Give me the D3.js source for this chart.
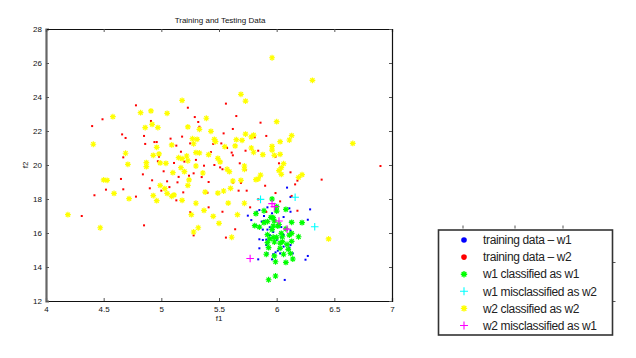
<!DOCTYPE html>
<html><head><meta charset="utf-8">
<script src="https://cdn.jsdelivr.net/npm/d3@7/dist/d3.min.js"></script>
<style>
html,body{margin:0;padding:0;background:#fff;}
text{font-family:"Liberation Sans",Arial,Helvetica,sans-serif;}
</style></head>
<body><svg id="c" width="636" height="358"></svg>
<script>
const title = "Training and Testing Data";
const xLabel = "f1", yLabel = "f2";
const xTicks = [4, 4.5, 5, 5.5, 6, 6.5, 7];
const yTicks = [12, 14, 16, 18, 20, 22, 24, 26, 28];
const legendLabels = ["training data \u2013 w1","training data \u2013 w2","w1 classified as w1","w1 misclassified as w2","w2 classified as w2","w2 misclassified as w1"];

const trainW1 = [[6.09,18.67],[6.12,18.12],[6.29,17.39],[6.11,17.45],[5.92,17.51],[5.85,17.35],[5.75,17.02],[5.89,17.0],[5.78,16.76],[5.87,16.67],[6.06,16.94],[6.12,16.65],[6.27,16.78],[5.82,16.45],[5.88,16.2],[5.92,16.2],[6.04,16.35],[5.85,15.63],[5.88,15.59],[5.91,15.29],[5.85,15.1],[5.92,14.8],[5.96,14.45],[5.84,14.45],[6.01,14.96],[6.06,15.2],[6.14,14.8],[6.25,14.43],[6.27,14.65],[6.07,13.24],[5.94,15.88],[6.0,15.59],[6.06,15.88],[6.03,14.8],[5.96,17.16],[5.99,17.39],[6.12,17.25],[5.83,17.25],[5.89,16.71],[5.94,16.34],[5.97,16.06],[6.12,16.14],[5.91,15.61],[5.97,14.75],[5.99,14.86],[6.04,15.75],[6.11,15.14],[6.12,15.29]];
const trainW2 = [[4.78,23.51],[5.23,23.37],[5.56,23.61],[4.49,22.69],[4.4,22.29],[4.91,22.59],[5.29,22.82],[5.65,22.88],[5.86,22.49],[4.66,21.8],[4.69,21.59],[4.85,21.71],[5.08,21.55],[5.32,22.53],[5.33,22.25],[5.45,21.24],[5.54,21.86],[5.62,22.12],[5.91,21.71],[4.94,21.35],[4.96,21.35],[5.18,21.67],[5.25,21.27],[5.52,21.27],[5.81,21.63],[4.67,20.45],[4.86,21.24],[5.13,21.14],[5.17,20.78],[5.73,20.84],[5.84,20.84],[5.61,20.73],[5.62,20.57],[5.43,20.76],[4.98,20.49],[4.97,20.22],[5.11,20.12],[5.37,19.96],[5.51,19.86],[5.53,19.75],[5.68,20.1],[5.73,19.71],[5.99,20.49],[6.02,20.1],[6.12,19.57],[6.18,19.08],[6.39,19.14],[6.9,19.94],[6.16,18.86],[4.65,19.18],[4.84,19.45],[5.02,19.63],[5.05,19.04],[5.14,18.98],[5.24,19.37],[5.28,19.51],[5.35,19.29],[5.41,19.0],[5.62,18.96],[5.67,18.49],[5.69,18.94],[5.74,18.49],[5.9,18.78],[4.52,18.55],[4.67,18.57],[4.9,18.63],[5.0,18.49],[5.13,17.92],[5.19,18.39],[5.4,18.37],[4.42,18.22],[4.78,18.14],[5.99,18.35],[6.03,17.86],[6.13,18.18],[5.53,17.25],[5.41,17.51],[5.25,17.22],[4.31,17.0],[4.85,16.45],[5.28,15.86],[5.56,15.73],[5.64,16.22],[6.18,17.31],[5.77,17.51],[5.91,17.24],[5.84,17.98],[5.3,20.3],[5.46,20.0],[5.57,21.0],[5.2,20.2],[4.92,19.1],[5.15,19.3],[5.07,18.7]];
const w1Correct = [[5.96,18.0],[5.82,17.14],[5.89,17.31],[6.0,17.55],[6.08,17.39],[6.0,17.29],[5.95,16.92],[5.98,16.71],[5.92,16.67],[5.89,16.61],[5.81,16.43],[5.85,16.35],[5.97,16.41],[6.01,16.41],[6.08,16.25],[5.96,16.2],[6.22,16.61],[6.13,16.63],[6.19,15.78],[6.11,15.88],[6.05,15.78],[6.0,15.75],[5.97,15.75],[5.92,15.9],[5.98,15.47],[6.05,15.49],[6.13,15.51],[6.09,15.33],[6.03,15.1],[5.93,15.14],[5.92,15.43],[6.1,15.04],[5.91,14.75],[5.98,14.65],[6.06,14.75],[6.12,14.8],[5.99,14.31],[6.08,14.27],[6.14,14.47],[5.93,13.25],[5.99,13.47],[6.13,15.98],[6.04,15.98],[5.94,15.65],[6.03,15.41],[5.97,16.9],[6.02,16.5]];
const w1Wrong = [[5.86,17.98],[6.16,18.1],[6.33,16.37]];
const w2Correct = [[5.96,26.31],[6.31,24.98],[5.69,24.16],[5.73,23.76],[5.18,23.8],[4.58,22.84],[4.82,23.08],[4.91,23.18],[5.05,23.04],[5.39,22.75],[6.0,22.55],[4.86,22.2],[4.92,22.39],[4.97,22.2],[5.23,22.24],[5.33,22.1],[5.43,21.98],[4.41,21.22],[5.73,21.82],[5.8,21.76],[5.78,21.65],[6.13,21.73],[6.11,21.47],[5.27,21.55],[5.31,21.51],[5.46,21.51],[5.47,21.37],[5.28,21.25],[5.09,21.18],[5.65,21.49],[5.7,21.45],[5.64,21.12],[5.55,21.08],[4.96,21.04],[5.78,21.0],[5.96,21.1],[5.96,20.88],[6.03,21.37],[4.69,20.69],[5.8,20.75],[5.3,20.73],[5.33,20.71],[4.93,20.57],[4.98,20.65],[5.41,20.61],[5.88,20.61],[5.98,20.57],[6.03,20.63],[5.15,20.43],[5.18,20.37],[5.22,20.53],[5.49,20.39],[4.71,20.04],[4.87,20.14],[4.99,20.12],[5.04,20.1],[4.87,19.9],[5.23,20.25],[5.51,20.18],[6.06,20.08],[6.04,19.84],[6.02,19.67],[5.17,19.84],[5.3,19.94],[5.57,19.75],[5.59,19.61],[5.72,19.94],[5.72,19.75],[5.1,19.55],[5.2,19.61],[5.36,19.53],[5.86,19.41],[6.04,19.45],[6.22,19.43],[6.19,19.27],[4.5,19.12],[4.53,19.1],[5.24,19.12],[5.62,19.06],[5.69,19.1],[5.82,19.14],[5.84,19.18],[4.99,18.8],[5.03,18.61],[5.23,18.8],[4.59,18.33],[5.05,18.33],[5.38,18.41],[5.49,18.35],[5.54,18.47],[5.6,18.63],[5.09,18.16],[5.11,18.24],[4.93,18.2],[4.72,18.02],[4.96,17.9],[5.18,17.92],[5.3,17.75],[5.58,17.76],[5.72,17.75],[5.37,17.33],[4.19,17.08],[5.26,17.08],[5.45,16.98],[5.66,17.08],[5.5,16.57],[4.47,16.31],[5.32,16.31],[5.28,16.06],[5.61,15.75],[6.45,15.65],[6.66,21.27]];
const w2Wrong = [[5.96,17.73],[5.98,17.55],[6.02,16.71],[6.09,16.23],[5.77,14.5]];

const colors = ["#0000ff","#ff0000","#00ff00","#00ffff","#ffff00","#ff00ff"];

const svg = d3.select("#c");
const x = d3.scaleLinear().domain([4,7]).range([46,392]);
const y = d3.scaleLinear().domain([12,28]).range([301,29]);

const g = svg.append("g");
function starPath(cx,cy,r){
  const a=r*0.72;
  return `M${cx-r},${cy}H${cx+r}M${cx},${cy-r}V${cy+r}M${cx-a},${cy-a}L${cx+a},${cy+a}M${cx-a},${cy+a}L${cx+a},${cy-a}`;
}
function plusPath(cx,cy,r){return `M${cx-r},${cy}H${cx+r}M${cx},${cy-r}V${cy+r}`;}
function dot(sel, data, col){
  sel.selectAll(null).data(data).enter().append("rect")
    .attr("x", d=>x(d[0])-1).attr("y", d=>y(d[1])-1)
    .attr("width",2).attr("height",2).attr("fill",col);
}
function star(sel, data, col, r){
  sel.selectAll(null).data(data).enter().append("path")
    .attr("d", d=>starPath(x(d[0]),y(d[1]),r)).attr("stroke",col).attr("stroke-width",1.2).attr("fill","none");
  sel.selectAll(null).data(data).enter().append("circle")
    .attr("cx",d=>x(d[0])).attr("cy",d=>y(d[1])).attr("r",r*0.45).attr("fill",col);
}
function plus(sel, data, col, r){
  sel.selectAll(null).data(data).enter().append("path")
    .attr("d", d=>plusPath(x(d[0]),y(d[1]),r)).attr("stroke",col).attr("stroke-width",1.1).attr("fill","none");
}
dot(g, trainW1, colors[0]);
dot(g, trainW2, colors[1]);
star(g, w1Correct, colors[2], 2.9);
plus(g, w1Wrong, colors[3], 3.8);
star(g, w2Correct, colors[4], 2.9);
plus(g, w2Wrong, colors[5], 3.8);

// axes (MATLAB-style box with inward ticks)
const fmt = d => String(d);
const axBottom = d3.axisBottom(x).tickValues(xTicks).tickSize(-3).tickPadding(5).tickFormat(fmt);
const axLeft = d3.axisLeft(y).tickValues(yTicks).tickSize(-3).tickPadding(4).tickFormat(fmt);
const axTop = d3.axisTop(x).tickValues(xTicks).tickSize(-3).tickFormat("");
const axRight = d3.axisRight(y).tickValues(yTicks).tickSize(-3).tickFormat("");
const gb = svg.append("g").attr("transform","translate(0,301)").call(axBottom);
const gl = svg.append("g").attr("transform","translate(46,0)").call(axLeft);
const gt = svg.append("g").attr("transform","translate(0,29)").call(axTop);
const gr = svg.append("g").attr("transform","translate(392,0)").call(axRight);
[gb,gl,gt,gr].forEach(a=>{
  a.selectAll(".domain").attr("stroke","#111").attr("stroke-width",1.2);
  a.selectAll(".tick line").attr("stroke","#555");
  a.selectAll("text").attr("font-size","8px").attr("fill","#111")
   .style("font-family","'Liberation Sans',Arial,sans-serif");
});
gl.select(".domain").attr("stroke","#666").attr("stroke-width",2.2);

svg.append("text").attr("x",220).attr("y",23).attr("text-anchor","middle")
  .attr("font-size","8px").attr("fill","#111").text(title);
svg.append("text").attr("x",219).attr("y",321).attr("text-anchor","middle")
  .attr("font-size","8px").attr("fill","#111").text(xLabel);
svg.append("text").attr("transform","translate(28,165) rotate(-90)").attr("text-anchor","middle")
  .attr("font-size","8px").attr("fill","#111").text(yLabel);

// stray ticks of hidden axes behind legend
const stray = svg.append("g").attr("stroke","#555").attr("stroke-width",1);
[463,515,563].forEach(v=>stray.append("line").attr("x1",v).attr("x2",v).attr("y1",225.5).attr("y2",228.5));
[262.5,301.5].forEach(v=>stray.append("line").attr("x1",612).attr("x2",615.5).attr("y1",v).attr("y2",v));

// legend
const lg = svg.append("g");
lg.append("rect").attr("x",438.5).attr("y",230).attr("width",174).attr("height",105)
  .attr("fill","#fff").attr("stroke","#333").attr("stroke-width",1.6);
const rowY = d3.scalePoint().domain(legendLabels).range([240,325.5]);
legendLabels.forEach((lab,i)=>{
  const cy = rowY(lab), cx = 464;
  if(i<2){
    lg.append("circle").attr("cx",cx).attr("cy",cy).attr("r",2.8).attr("fill",colors[i]);
  } else if(i===2 || i===4){
    lg.append("path").attr("d",starPath(cx,cy,3.2)).attr("stroke",colors[i]).attr("stroke-width",1.4).attr("fill","none");
    lg.append("circle").attr("cx",cx).attr("cy",cy).attr("r",1.5).attr("fill",colors[i]);
  } else {
    lg.append("path").attr("d",plusPath(cx,cy,4)).attr("stroke",colors[i]).attr("stroke-width",1.1);
  }
  lg.append("text").attr("x",483).attr("y",cy).attr("dy","0.35em")
    .attr("font-size","12px").attr("fill","#222").attr("letter-spacing","-0.35px").text(lab);
});
</script></body></html>
